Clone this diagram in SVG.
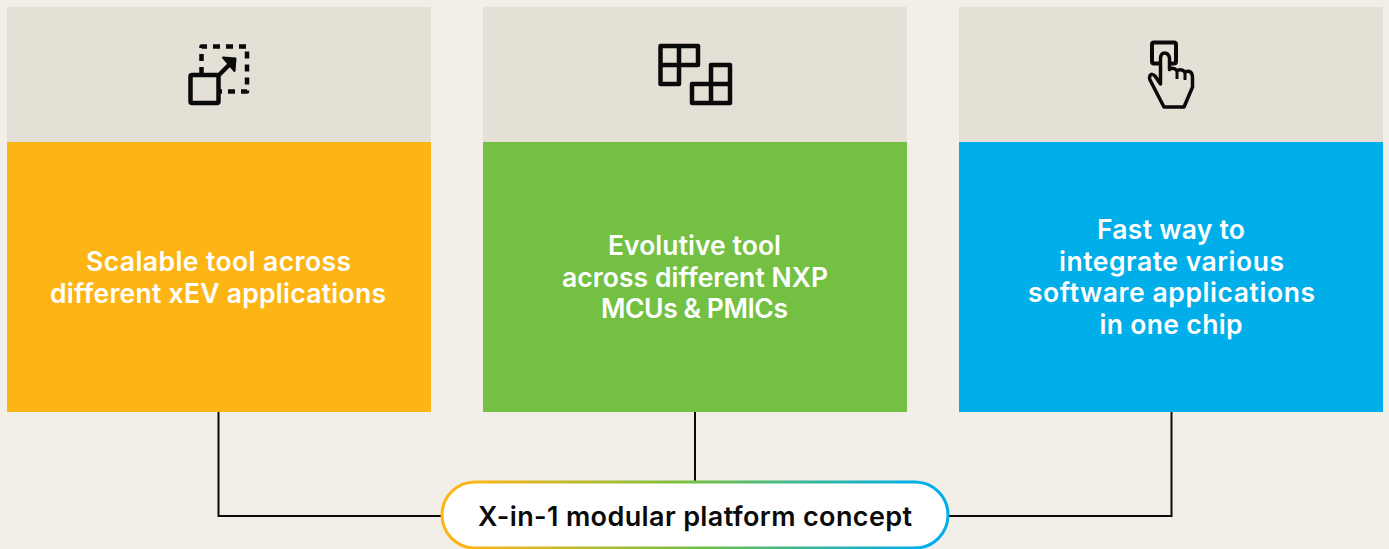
<svg xmlns="http://www.w3.org/2000/svg" width="1389" height="549" viewBox="0 0 1389 549">
<style>
.hd{fill:#e4e0d5}
.t{font-family:"Inter","Liberation Sans",sans-serif;font-weight:600;font-size:26.500px;fill:#fff;text-anchor:middle}
.i{fill:none;stroke:#0a0a0a;stroke-width:4.500;stroke-linejoin:round}
.c{fill:none;stroke:#0a0a0a;stroke-width:2}
</style>
<defs><linearGradient id="g" x1="442" x2="948" y1="0" y2="0" gradientUnits="userSpaceOnUse"><stop offset="0.06" stop-color="#fdb515"/><stop offset="0.5" stop-color="#73c043"/><stop offset="0.94" stop-color="#00aeea"/></linearGradient></defs>
<rect width="1389" height="549" fill="#f2efe9"/>
<g id="connectors">
<path class="c" d="M218.500 412V516H442"/>
<path class="c" d="M695 412V482"/>
<path class="c" d="M1171.500 412V516H948"/>
</g>
<g id="node-scalable">
<rect class="hd" x="7" y="7" width="424" height="135"/>
<rect x="7" y="142" width="424" height="270" fill="#fdb515"/>
<path class="i" stroke-dasharray="7 6" d="M201.500 74V46.500H247V91.500H220"/>
<rect class="i" x="190.500" y="75" width="28" height="28" rx="1.500"/>
<path class="i" d="M219 75L233 61"/>
<path d="M223 57.500L235.500 58.500L234.500 71Z" fill="#0a0a0a" stroke="#0a0a0a" stroke-width="2" stroke-linejoin="round"/>
<text class="t" x="218.500" y="271" textLength="265">Scalable tool across</text>
<text class="t" x="218" y="302.500" textLength="336">different xEV applications</text>
</g>
<g id="node-evolutive">
<rect class="hd" x="483" y="7" width="424" height="135"/>
<rect x="483" y="142" width="424" height="270" fill="#73c043"/>
<path class="i" d="M660.500 46H698V65H660.500ZM660.500 46V84H679V46M692 84H730V103H692ZM711 65H730V103H711Z"/>
<text class="t" x="694.500" y="255" textLength="173">Evolutive tool</text>
<text class="t" x="695" y="286.500" textLength="266">across different NXP</text>
<text class="t" x="694.500" y="318" textLength="187">MCUs &amp; PMICs</text>
</g>
<g id="node-fast">
<rect class="hd" x="959" y="7" width="424" height="135"/>
<rect x="959" y="142" width="424" height="270" fill="#00aeea"/>
<rect class="i" style="stroke-width:4" x="1152" y="42.500" width="24" height="21" rx="2"/>
<path class="i" style="fill:#e4e0d5;stroke-width:3.500" d="M1164 107H1184L1192.500 87V77Q1192 69.500 1185 72Q1182 68.500 1177 70.500Q1173 66.500 1169.500 69.500V58Q1168.500 53 1164.500 53Q1161 53 1160.500 58V84L1155 76Q1152 73 1150 75.500Q1149 78 1150 80Z"/>
<path class="i" style="stroke-width:3" d="M1177 70.500V79M1185 72V80"/>
<text class="t" x="1171" y="239" textLength="148">Fast way to</text>
<text class="t" x="1171.500" y="270.500" textLength="225">integrate various</text>
<text class="t" x="1171.500" y="302" textLength="287">software applications</text>
<text class="t" x="1171" y="333.500" textLength="143">in one chip</text>
</g>
<g id="node-platform">
<rect x="442" y="482" width="506" height="66" rx="33" fill="#fff" stroke="url(#g)" stroke-width="3"/>
<text x="695" y="526" text-anchor="middle" font-family="Inter,'Liberation Sans',sans-serif" font-weight="600" font-size="27px" textLength="434" fill="#0a0a0a">X-in-1 modular platform concept</text>
</g>
</svg>
